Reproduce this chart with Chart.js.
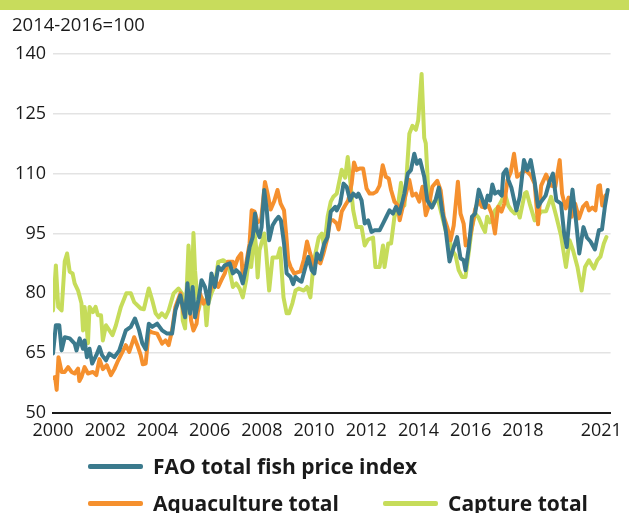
<!DOCTYPE html>
<html lang="en">
<head>
  <meta charset="UTF-8" />
  <title>FAO fish price index</title>
  <script src="https://cdn.jsdelivr.net/npm/chart.js"></script>
  <style>
    body { margin: 0; padding: 0; background: #fff; font-family: "Open Sans", sans-serif; }
    .wrap { position: relative; width: 629px; height: 513px; overflow: hidden; }
    .topbar { position: absolute; left: 0; top: 0; width: 629px; height: 10px; background: #c8dc5c; }
    .unit { position: absolute; left: 12px; top: 11px; font-size: 18.5px; color: #1a1a1a; }
    canvas { position: absolute; left: 0; top: 0; }
    .item { position: absolute; height: 26px; display: flex; align-items: center; font-weight: bold; font-size: 21px; color: #1a1a1a; }
    .item span.line { display: inline-block; width: 55px; height: 5px; border-radius: 2px; margin-right: 10px; }
  </style>
</head>
<body>
  <div class="wrap">
    <div class="topbar"></div>
    <canvas id="fishChart" width="629" height="513"></canvas>
    <div class="unit">2014-2016=100</div>
    <div id="legend"></div>
  </div>

  <script>
    // years are counted from Jan 2000 (monthly index)
    const xTickYears = [2000, 2002, 2004, 2006, 2008, 2010, 2012, 2014, 2016, 2018, 2021];
    const yTicks = [50, 65, 80, 95, 110, 125, 140];

    const fishYears = [0.00, 0.11, 0.24, 0.33, 0.45, 0.64, 0.83, 0.90, 1.02, 1.15, 1.21, 1.30, 1.40, 1.50, 1.66, 1.78, 1.88, 2.03, 2.16, 2.35, 2.54, 2.79, 2.98, 3.14, 3.30, 3.42, 3.55, 3.67, 3.80, 3.99, 4.18, 4.37, 4.56, 4.69, 4.88, 4.97, 5.06, 5.15, 5.25, 5.35, 5.44, 5.57, 5.69, 5.82, 5.95, 6.07, 6.20, 6.33, 6.45, 6.58, 6.77, 6.89, 7.02, 7.15, 7.27, 7.40, 7.53, 7.65, 7.74, 7.81, 7.91, 7.99, 8.09, 8.19, 8.28, 8.41, 8.53, 8.64, 8.73, 8.85, 8.95, 9.10, 9.20, 9.29, 9.42, 9.52, 9.67, 9.78, 9.91, 10.01, 10.11, 10.24, 10.39, 10.52, 10.64, 10.81, 10.87, 11.00, 11.13, 11.25, 11.38, 11.50, 11.63, 11.70, 11.82, 11.94, 12.07, 12.20, 12.32, 12.51, 12.64, 12.77, 12.89, 13.02, 13.14, 13.27, 13.46, 13.59, 13.71, 13.84, 13.94, 14.06, 14.22, 14.34, 14.51, 14.66, 14.78, 14.91, 15.04, 15.19, 15.35, 15.48, 15.61, 15.73, 15.80, 15.92, 16.05, 16.17, 16.31, 16.43, 16.55, 16.65, 16.74, 16.83, 16.93, 17.06, 17.19, 17.25, 17.37, 17.44, 17.56, 17.75, 17.88, 18.04, 18.17, 18.30, 18.45, 18.58, 18.70, 18.87, 19.02, 19.15, 19.28, 19.46, 19.58, 19.68, 19.81, 19.90, 20.04, 20.16, 20.32, 20.45, 20.59, 20.76, 20.91, 21.03, 21.14, 21.25];
    const fishIndex = [64.9, 72, 72, 65.7, 69, 68.7, 67.4, 65.7, 68.7, 66.1, 68.2, 64, 66.1, 62.4, 64.5, 66.5, 64.5, 63.2, 64.9, 64, 65.7, 70.7, 71.6, 73.7, 70.7, 67.5, 66, 72.4, 71.6, 72.4, 70.7, 69.9, 69.9, 75.8, 79.5, 76.6, 74, 82.5, 74.9, 81.6, 74, 78.3, 83.3, 81.6, 77.4, 85, 81.6, 86.6, 85.8, 87, 87.5, 85, 85.8, 85, 82.5, 86.5, 91.6, 94.1, 100, 95.8, 94.1, 96.6, 105.9, 100.8, 93.3, 97, 98.3, 99.2, 98.3, 92.5, 85, 84.1, 82.3, 84.1, 83.3, 82.9, 86.6, 89.1, 85.8, 85, 90, 88.5, 92.5, 94.1, 100.5, 101.7, 100.8, 102.5, 107.5, 106.7, 103.3, 105, 104.2, 105, 103.3, 97.5, 98.3, 95.4, 95.8, 95.8, 97.5, 99.2, 100.8, 100, 101.7, 100, 105, 110, 110.9, 115, 112.5, 113.4, 109.2, 103.3, 101.5, 103.5, 106.5, 100.5, 96, 88, 91.6, 94.1, 88.8, 88.3, 85.8, 91.2, 99.2, 100, 106, 103.8, 101.5, 104.5, 103.3, 107.3, 105, 105.5, 104.5, 110, 111.1, 108.5, 106.5, 100.8, 104.2, 113.4, 110.9, 113.4, 108, 101.7, 103, 104.5, 108, 110, 103.3, 102.5, 95, 91.6, 100.8, 106, 97.8, 90, 96.6, 94, 93, 91, 95.8, 96, 101.7, 105.9];

    const aquaYears = [0.00, 0.08, 0.14, 0.21, 0.33, 0.45, 0.58, 0.71, 0.83, 0.96, 1.01, 1.09, 1.21, 1.34, 1.53, 1.66, 1.78, 1.91, 2.06, 2.22, 2.35, 2.47, 2.60, 2.79, 2.92, 3.11, 3.23, 3.36, 3.44, 3.55, 3.67, 3.79, 3.99, 4.18, 4.31, 4.43, 4.56, 4.69, 4.88, 5.00, 5.06, 5.19, 5.29, 5.38, 5.50, 5.63, 5.76, 5.95, 6.07, 6.20, 6.33, 6.45, 6.58, 6.70, 6.89, 6.96, 7.08, 7.21, 7.27, 7.40, 7.53, 7.61, 7.72, 7.84, 7.97, 8.12, 8.22, 8.34, 8.47, 8.60, 8.72, 8.85, 8.95, 9.01, 9.10, 9.24, 9.48, 9.61, 9.73, 9.85, 9.99, 10.11, 10.24, 10.36, 10.49, 10.62, 10.74, 10.87, 10.94, 11.06, 11.19, 11.31, 11.44, 11.53, 11.63, 11.75, 11.88, 12.01, 12.13, 12.26, 12.39, 12.51, 12.63, 12.75, 12.86, 12.95, 13.08, 13.21, 13.28, 13.40, 13.52, 13.65, 13.77, 13.90, 14.03, 14.15, 14.28, 14.40, 14.53, 14.72, 14.85, 14.97, 15.10, 15.23, 15.35, 15.51, 15.61, 15.73, 15.81, 15.92, 16.05, 16.17, 16.30, 16.43, 16.55, 16.68, 16.80, 16.93, 17.05, 17.18, 17.29, 17.41, 17.54, 17.66, 17.78, 17.92, 18.11, 18.30, 18.45, 18.58, 18.70, 18.89, 19.07, 19.24, 19.41, 19.50, 19.64, 19.75, 19.87, 20.00, 20.15, 20.30, 20.44, 20.53, 20.66, 20.78, 20.89, 20.95, 21.04, 21.16];
    const aquaIndex = [58.8, 59, 55.8, 64, 60.3, 60.3, 61.5, 60.3, 59.9, 61.1, 58, 59, 61.5, 59.9, 60.3, 59.5, 63.5, 61, 62, 59.5, 61, 62.8, 64.5, 67, 65.3, 69, 67, 64.5, 62.2, 62.4, 70.7, 70.2, 69.9, 67.4, 68.2, 67, 70.7, 76.6, 80, 74.9, 76.6, 80, 73.2, 70.7, 72.4, 80, 77.4, 79.1, 81.6, 83.3, 81.6, 83.3, 85, 87.9, 87.9, 86.6, 88.8, 90, 84.1, 87.5, 92.5, 100.8, 100.5, 97.8, 98.3, 107.9, 105, 101, 103, 105.9, 102.5, 100.8, 93.3, 88.3, 86.6, 85, 85.5, 88.5, 93, 90, 87, 88.3, 87.5, 90, 93.3, 98.3, 98.3, 97.5, 96, 100.5, 102, 103.3, 107.5, 112.8, 110.9, 111.3, 111.3, 106.3, 105, 105, 105.5, 107, 112.1, 109.2, 108.8, 105.9, 103, 102, 98.3, 101.7, 105, 108.4, 104.5, 105, 103, 106.7, 99.6, 102, 106.7, 108.2, 105.8, 99.2, 96.6, 93.3, 97, 108, 100, 97.5, 92, 92.5, 96.6, 101, 103.3, 101.7, 101.5, 102, 100, 95, 101.7, 100.5, 102.5, 108.4, 110.5, 115, 109.2, 110, 110.9, 109.6, 107.5, 97.3, 107, 109.8, 107, 106.7, 113.4, 105, 101.3, 104, 99.2, 102.5, 98.8, 101.7, 102.7, 100.8, 101.5, 100.8, 106.9, 107.1, 102, 104.5];

    const captureYears = [0.00, 0.11, 0.20, 0.33, 0.45, 0.54, 0.64, 0.75, 0.83, 0.96, 1.09, 1.15, 1.21, 1.28, 1.34, 1.40, 1.53, 1.63, 1.72, 1.84, 1.91, 2.03, 2.16, 2.28, 2.41, 2.60, 2.81, 2.98, 3.11, 3.36, 3.48, 3.67, 3.80, 3.93, 4.05, 4.17, 4.31, 4.43, 4.62, 4.81, 4.94, 4.97, 5.06, 5.19, 5.25, 5.31, 5.38, 5.44, 5.57, 5.69, 5.82, 5.88, 5.95, 6.07, 6.20, 6.33, 6.52, 6.70, 6.79, 6.89, 7.02, 7.15, 7.27, 7.40, 7.53, 7.59, 7.72, 7.78, 7.84, 7.91, 8.09, 8.16, 8.28, 8.41, 8.60, 8.70, 8.83, 8.95, 9.04, 9.17, 9.29, 9.42, 9.61, 9.73, 9.86, 9.99, 10.18, 10.30, 10.39, 10.52, 10.64, 10.74, 10.87, 11.06, 11.19, 11.29, 11.38, 11.50, 11.63, 11.82, 11.94, 12.07, 12.26, 12.35, 12.51, 12.64, 12.70, 12.84, 12.95, 13.08, 13.21, 13.33, 13.46, 13.55, 13.65, 13.77, 13.90, 13.99, 14.12, 14.22, 14.28, 14.38, 14.53, 14.72, 14.91, 15.04, 15.16, 15.29, 15.42, 15.54, 15.67, 15.80, 15.92, 16.05, 16.17, 16.30, 16.43, 16.55, 16.63, 16.74, 16.87, 16.93, 17.06, 17.19, 17.31, 17.44, 17.56, 17.69, 17.81, 17.88, 18.07, 18.14, 18.26, 18.45, 18.70, 18.89, 19.08, 19.27, 19.46, 19.65, 19.79, 19.92, 20.09, 20.25, 20.38, 20.53, 20.72, 20.85, 20.97, 21.10, 21.20];
    const captureIndex = [75.7, 87, 76.6, 75.7, 88, 90, 85.4, 85, 82.5, 80.7, 77.5, 70.7, 76.6, 72.5, 67.5, 76.6, 75.3, 76.6, 74.5, 74.5, 68.2, 72, 70.7, 69.5, 72, 76.6, 80, 80, 77.8, 76.2, 76, 81.2, 78.3, 75, 74, 75, 74, 75.7, 80, 81.2, 80, 73.2, 71.2, 92, 86.6, 77.5, 95.1, 85.8, 75.7, 79, 77.5, 72, 77.5, 80, 82, 87.9, 88.3, 87.5, 85, 81.6, 82.5, 81.2, 79, 83.3, 90, 86.6, 95, 91.6, 84, 90.8, 95, 90.8, 80.7, 89, 89, 91.3, 79, 75, 75, 77.5, 80.7, 81.2, 80.7, 81.6, 79, 88, 94, 95, 91.6, 99.2, 103, 104.2, 105, 111, 109, 114.2, 108.5, 100.8, 96.6, 96.6, 92, 93.5, 94, 86.6, 86.6, 92, 86.6, 92.5, 92.5, 99.2, 101.7, 107.7, 102, 110, 120, 122, 121, 123.4, 135, 119, 117.6, 105, 101.7, 104.2, 99.2, 95.8, 94.1, 90.8, 89.5, 85.8, 84.1, 84.1, 90, 96.6, 100, 99, 97, 95.4, 99.2, 97.8, 99, 100.8, 101.7, 103.3, 105, 102, 100.8, 100, 100.4, 99, 105, 105.4, 102.5, 98.3, 100.5, 100.6, 104.2, 99.5, 94.5, 86.6, 93.3, 90.8, 86.6, 80.7, 86.6, 88.3, 86.2, 88.3, 89.2, 92.5, 94.1];

    const toPoints = (xs, ys) => xs.map((x, i) => ({ x: x, y: ys[i] }));

    const ctx = document.getElementById('fishChart').getContext('2d');
    const tickFont = { family: '"Open Sans", sans-serif', size: 18 };

    const chart = new Chart(ctx, {
      type: 'line',
      data: {
        datasets: [
          { label: 'FAO total fish price index', data: toPoints(fishYears, fishIndex), borderColor: '#3b7a8d', borderWidth: 4 },
          { label: 'Aquaculture total', data: toPoints(aquaYears, aquaIndex), borderColor: '#f5902e', borderWidth: 4 },
          { label: 'Capture total', data: toPoints(captureYears, captureIndex), borderColor: '#c6dc5a', borderWidth: 4 }
        ]
      },
      options: {
        responsive: false,
        animation: false,
        elements: { point: { radius: 0 }, line: { tension: 0, borderJoinStyle: 'round', borderCapStyle: 'round' } },
        layout: { padding: { left: 0, right: 12, top: 54, bottom: 70 } },
        plugins: { legend: { display: false }, tooltip: { enabled: false } },
        scales: {
          x: {
            type: 'linear',
            min: 0,
            max: 21.36,
            afterBuildTicks: (s) => { s.ticks = xTickYears.map(y => ({ value: y - 2000 })); },
            afterFit: (s) => { s.height = 30; },
            ticks: { callback: (v) => String(2000 + Math.round(v)), font: tickFont, color: '#1a1a1a', padding: 7, maxRotation: 0, autoSkip: false },
            grid: { display: false, drawTicks: false },
            border: { color: '#1a1a1a', width: 2 }
          },
          y: {
            min: 50,
            max: 140,
            afterBuildTicks: (s) => { s.ticks = yTicks.map(v => ({ value: v })); },
            afterFit: (s) => { s.width = 53; },
            ticks: { font: tickFont, color: '#1a1a1a', padding: 7 },
            grid: { color: '#e3e3e3', lineWidth: 1.5, drawTicks: false },
            border: { display: false }
          }
        }
      }
    });

    // legend built from the chart's datasets (two rows, like the original)
    const legendSpots = [[88, 453], [88, 490], [383, 490]];
    const legend = document.getElementById('legend');
    chart.data.datasets.forEach((ds, i) => {
      const el = document.createElement('div');
      el.className = 'item';
      el.style.left = legendSpots[i][0] + 'px';
      el.style.top = legendSpots[i][1] + 'px';
      el.innerHTML = '<span class="line" style="background:' + ds.borderColor + '"></span>' + ds.label;
      legend.appendChild(el);
    });
  </script>
</body>
</html>
